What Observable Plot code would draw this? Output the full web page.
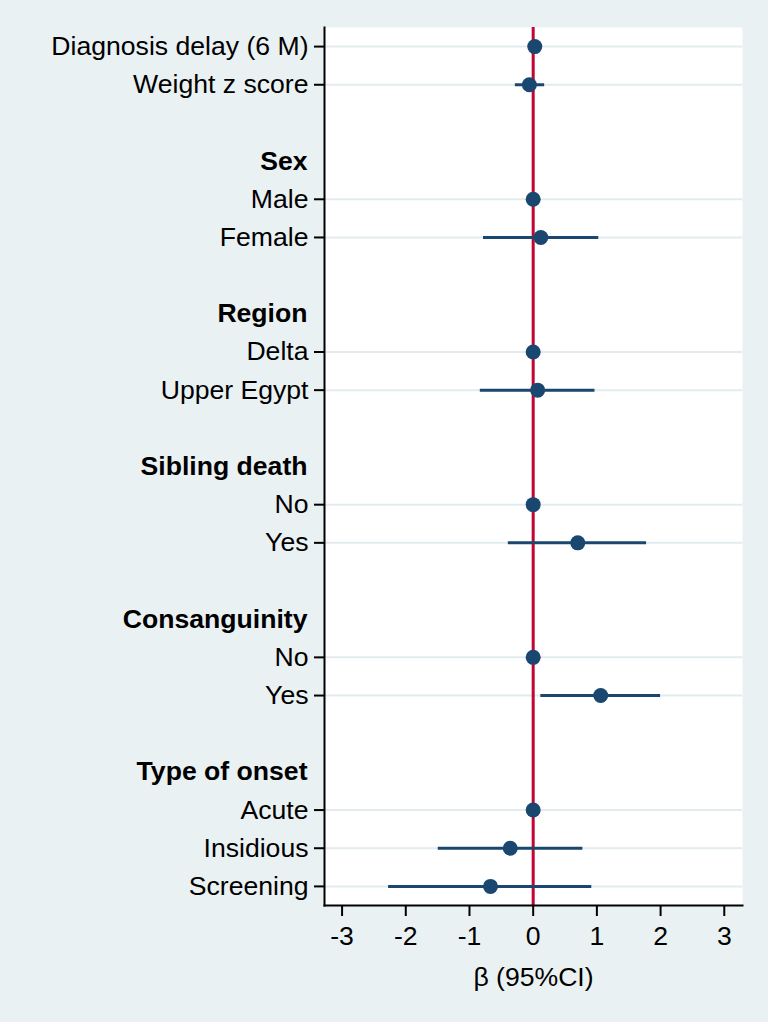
<!DOCTYPE html>
<html>
<head>
<meta charset="utf-8">
<script src="https://cdn.jsdelivr.net/npm/d3@7"></script>
<script src="https://cdn.jsdelivr.net/npm/@observablehq/plot@0.6"></script>
<style>
  html, body { margin: 0; padding: 0; background: #eaf1f3; }
</style>
</head>
<body>
<div id="chart"></div>
<script>
const labels = ["Diagnosis delay (6 M)", "Weight z score", "", "Sex", "Male", "Female", "", "Region", "Delta", "Upper Egypt", "", "Sibling death", "No", "Yes", "", "Consanguinity", "No", "Yes", "", "Type of onset", "Acute", "Insidious", "Screening"];
const headers = [false, false, false, true, false, false, false, true, false, false, false, true, false, false, false, true, false, false, false, true, false, false, false];
const estimates = [0.025, -0.06, null, null, 0, 0.12, null, null, 0, 0.07, null, null, 0, 0.70, null, null, 0, 1.06, null, null, 0, -0.36, -0.67];
const lower = [null, -0.28, null, null, null, -0.78, null, null, null, -0.83, null, null, null, -0.39, null, null, null, 0.12, null, null, null, -1.49, -2.27];
const upper = [null, 0.18, null, null, null, 1.03, null, null, null, 0.97, null, null, null, 1.78, null, null, null, 2.00, null, null, null, 0.78, 0.92];
const xTicks = [-3, -2, -1, 0, 1, 2, 3];
const xDomain = [-3.276, 3.286];

const rows = labels.map((label, i) => ({
  id: "r" + i, label, header: headers[i], est: estimates[i], lo: lower[i], hi: upper[i]
}));
const ids = rows.map(d => d.id);
const items = rows.filter(d => d.est !== null);
const cis = rows.filter(d => d.lo !== null);
const heads = rows.filter(d => d.header);
const labelOf = Object.fromEntries(rows.map(d => [d.id, d.label]));

const font = "'Liberation Sans', Arial, sans-serif";
const navy = "#1a476f";
const fs = 26.6;

const chart = Plot.plot({
  width: 768,
  height: 1022,
  marginLeft: 324,
  marginRight: 26,
  marginTop: 27,
  marginBottom: 117,
  style: { fontFamily: font, fontSize: fs + "px", background: "#eaf1f3", color: "#000" },
  x: { domain: xDomain },
  y: { type: "point", domain: ids, padding: 0.5, round: false },
  marks: [
    Plot.frame({ fill: "#ffffff", stroke: "none" }),
    Plot.ruleY(items, { y: "id", stroke: "#e2ebee", strokeWidth: 2 }),
    Plot.ruleX([0], { stroke: "#c10534", strokeWidth: 3 }),
    Plot.ruleY(cis, { y: "id", x1: "lo", x2: "hi", stroke: navy, strokeWidth: 3 }),
    Plot.dot(items, { x: "est", y: "id", r: 7.5, fill: navy, stroke: "none" }),
    Plot.frame({ anchor: "left", stroke: "#000", strokeWidth: 2 }),
    Plot.frame({ anchor: "bottom", stroke: "#000", strokeWidth: 2 }),
    Plot.axisY({
      ticks: items.map(d => d.id), tickFormat: d => labelOf[d],
      tickSize: 10, tickPadding: 6, fontSize: fs, stroke: "#000", strokeWidth: 2, label: null
    }),
    Plot.axisY({
      ticks: heads.map(d => d.id), tickFormat: d => labelOf[d],
      tickSize: 0, tickPadding: 17, fontSize: fs, fontWeight: "bold", label: null
    }),
    Plot.axisX({
      ticks: xTicks, tickFormat: d => String(d),
      tickSize: 11, tickPadding: 10, fontSize: fs, stroke: "#000", strokeWidth: 2,
      label: "β (95%CI)", labelAnchor: "center", labelArrow: "none", labelOffset: 80
    })
  ]
});
document.getElementById("chart").appendChild(chart);
</script>
</body>
</html>
